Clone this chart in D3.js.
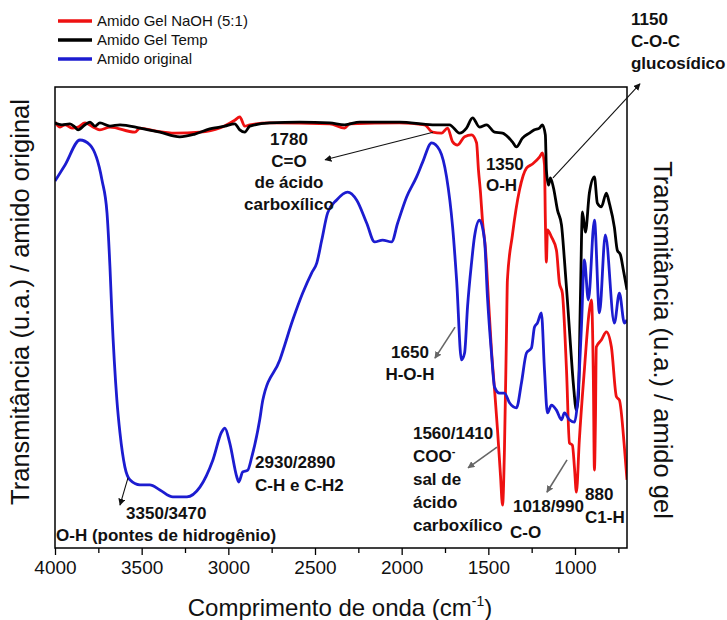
<!DOCTYPE html>
<meta charset="utf-8">
<style>
  body { margin: 0; background: #fff; }
  svg { font-family: "Liberation Sans", Arial, sans-serif; }
  .ann { font-weight: bold; font-size: 17px; fill: #111; }
</style>
<body>
<svg width="727" height="620"></svg>
<script src="https://cdn.jsdelivr.net/npm/d3@7"></script>
<script>

// wavenumber (cm-1), transmittance (u.a.)
var amidoOriginal = [
  [4000,79.6],[3942,83.1],[3856,88.5],[3798,87.4],[3729,79.8],[3700,72.7],[3683,61.0],[3672,51.0],
  [3643,32.1],[3625,24.9],[3597,17.6],[3568,14.8],[3510,13.7],[3453,13.7],[3395,12.6],[3320,11.1],
  [3239,11.1],[3164,13.2],[3089,19.1],[3038,25.2],[3020,26.0],[2992,22.8],[2951,15.4],[2940,14.3],
  [2917,16.5],[2888,16.9],[2865,19.7],[2819,27.8],[2801,32.1],[2703,40.8],[2628,49.5],[2571,55.3],
  [2519,59.7],[2490,61.8],[2461,66.8],[2427,72.7],[2375,75.5],[2312,77.2],[2260,75.5],[2202,70.5],
  [2156,66.4],[2110,66.8],[2058,66.4],[2023,70.5],[1972,76.1],[1914,80.5],[1879,83.7],[1827,87.9],
  [1781,86.3],[1741,80.5],[1706,69.6],[1683,58.1],[1655,40.8],[1637,42.3],[1620,52.3],[1597,61.8],
  [1580,67.5],[1551,71.1],[1522,66.8],[1505,54.4],[1482,42.3],[1464,34.9],[1436,33.6],[1407,33.6],
  [1378,31.5],[1338,30.4],[1309,35.8],[1280,42.3],[1251,43.4],[1234,47.9],[1217,48.8],[1194,51.0],
  [1176,38.6],[1159,29.3],[1136,31.0],[1107,29.9],[1078,27.8],[1061,29.3],[1032,27.8],[1003,27.3],
  [986,31.5],[963,47.9],[946,62.5],[923,53.8],[888,71.1],[859,51.0],[825,67.9],[773,48.8],
  [744,55.3],[715,48.8],[700,49.5]
];

var amidoGelTemp = [
  [4000,92.2],[3960,91.8],[3914,92.0],[3885,91.3],[3867,90.7],[3827,91.8],[3798,92.4],[3769,91.5],
  [3741,92.2],[3683,91.5],[3625,91.8],[3510,91.1],[3395,90.2],[3280,89.2],[3193,89.8],[3107,90.9],
  [3020,91.5],[2963,92.0],[2934,90.7],[2905,90.2],[2876,91.5],[2761,92.2],[2588,92.4],[2415,92.2],
  [2329,91.8],[2242,92.4],[2012,92.4],[1822,91.8],[1724,91.8],[1666,90.0],[1626,91.1],[1591,93.3],
  [1551,91.3],[1510,91.8],[1464,90.2],[1418,90.0],[1361,88.1],[1338,87.0],[1303,88.9],[1263,90.0],
  [1234,90.7],[1205,91.1],[1188,91.8],[1171,89.6],[1165,82.0],[1153,78.7],[1142,80.3],[1124,78.1],
  [1101,73.3],[1078,70.1],[1061,62.5],[1044,53.8],[1026,44.0],[1009,35.4],[992,29.9],[980,33.2],
  [969,53.8],[957,72.9],[940,68.5],[917,77.0],[888,80.5],[871,74.8],[848,74.0],[819,77.0],
  [802,74.8],[773,69.6],[756,64.6],[738,63.6],[721,60.3],[700,56.0]
];

var amidoGelNaOH = [
  [4000,92.4],[3971,91.3],[3942,91.8],[3902,91.1],[3867,91.3],[3827,92.2],[3769,91.1],[3741,90.7],
  [3683,91.3],[3539,90.2],[3510,91.1],[3424,90.5],[3308,90.0],[3164,90.2],[3049,91.1],[2963,92.8],
  [2934,93.5],[2905,91.5],[2876,91.8],[2761,92.2],[2415,92.0],[2329,91.1],[2300,92.0],[2012,92.2],
  [1868,91.8],[1822,90.2],[1770,90.0],[1735,91.1],[1706,88.1],[1678,87.4],[1637,89.2],[1597,89.6],
  [1568,87.9],[1557,82.0],[1545,77.0],[1534,71.1],[1516,64.6],[1499,53.8],[1482,43.0],[1464,34.3],
  [1447,25.6],[1430,15.8],[1418,9.3],[1407,21.3],[1395,47.3],[1390,58.1],[1361,67.9],[1320,77.7],
  [1280,82.4],[1245,83.3],[1205,84.8],[1188,85.7],[1176,83.1],[1171,71.1],[1165,62.0],[1159,69.0],
  [1136,67.5],[1107,64.6],[1090,57.5],[1073,55.3],[1049,38.6],[1032,22.8],[1015,22.3],[1003,17.4],
  [992,12.1],[975,23.4],[946,38.6],[917,51.6],[905,53.8],[894,36.4],[888,16.9],[882,27.8],
  [877,43.6],[848,45.1],[819,46.9],[790,43.6],[761,32.8],[744,32.1],[715,21.9],[700,14.8]
];

var seriesNames = ["Amido Gel NaOH (5:1)", "Amido Gel Temp", "Amido original"];
var seriesColors = ["#ee1111", "#000000", "#1c1cd0"];
var seriesData = [amidoGelNaOH, amidoGelTemp, amidoOriginal];

var xTicks = [4000, 3500, 3000, 2500, 2000, 1500, 1000];
var xMinorTicks = [3750, 3250, 2750, 2250, 1750, 1250, 750];

// band annotations: anchor (wavenumber, transmittance), text lines
var annotations = [
  {wn: 677, t: 113.4, anchor: "start", lh: 22, lines: ["1150", "C-O-C", "glucosídico"]},
  {wn: 2650, t: 87.4, anchor: "middle", lh: 21.5, lines: ["1780", "C=O", "de ácido", "carboxílico"]},
  {wn: 1514, t: 82.0, anchor: "start", lh: 21, lines: ["1350", "O-H"]},
  {wn: 1952, t: 41.2, anchor: "middle", lh: 22, lines: ["1650", "H-O-H"]},
  {wn: 1935, t: 23.6, anchor: "start", lh: 23, lines: ["1560/1410", "COO", "sal de", "ácido", "carboxílico"]},
  {wn: 1375, t: 2.2, anchor: "start", lh: 0, lines: ["C-O"]},
  {wn: 1358, t: 7.8, anchor: "start", lh: 0, lines: ["1018/990"]},
  {wn: 942, t: 10.4, anchor: "start", lh: 23, lines: ["880", "C1-H"]},
  {wn: 2846, t: 17.4, anchor: "start", lh: 23, lines: ["2930/2890", "C-H e C-H2"]},
  {wn: 3590, t: 6.3, anchor: "start", lh: 0, lines: ["3350/3470"]},
  {wn: 3994, t: 1.5, anchor: "start", lh: 0, lines: ["O-H (pontes de hidrogênio)"]}
];

// arrows: from (wn, t) to (wn, t)
var arrows = [
  {from: [1127, 80.3], to: [625, 100.7], color: "#111"},
  {from: [1819, 90.2], to: [2442, 84.2], color: "#111"},
  {from: [1692, 47.9], to: [1808, 41.2], color: "#666"},
  {from: [1450, 21.9], to: [1617, 17.4], color: "#666"},
  {from: [1046, 19.1], to: [1162, 12.1], color: "#666"},
  {from: [3579, 15.2], to: [3625, 9.3], color: "#111"}
];

var svg = d3.select("svg"),
    margin = {top: 87, right: 100, bottom: 72, left: 55},
    width = +svg.attr("width") - margin.left - margin.right,
    height = +svg.attr("height") - margin.top - margin.bottom;

var x = d3.scaleLinear().domain([4000, 700]).range([margin.left, margin.left + width]);
var y = d3.scaleLinear().domain([0, 100]).range([margin.top + height, margin.top]);

var defs = svg.append("defs");
["#111", "#666"].forEach(function(c, i) {
  defs.append("marker")
      .attr("id", "arr" + i)
      .attr("viewBox", "0 0 10 10")
      .attr("refX", 9).attr("refY", 5)
      .attr("markerWidth", 7).attr("markerHeight", 7)
      .attr("markerUnits", "userSpaceOnUse")
      .attr("orient", "auto")
    .append("path")
      .attr("d", "M0,0 L10,5 L0,10 z")
      .attr("fill", c);
});

defs.append("clipPath").attr("id", "plotclip")
  .append("rect")
    .attr("x", margin.left).attr("y", margin.top)
    .attr("width", width).attr("height", height);

// curves
var line = d3.line()
    .x(function(d) { return x(d[0]); })
    .y(function(d) { return y(d[1]); })
    .curve(d3.curveMonotoneX);

svg.append("g")
    .attr("clip-path", "url(#plotclip)")
  .selectAll("path")
    .data(seriesData)
  .enter().append("path")
    .attr("d", line)
    .attr("fill", "none")
    .attr("stroke", function(d, i) { return seriesColors[i]; })
    .attr("stroke-width", 2.8)
    .attr("stroke-linejoin", "round");

// frame
svg.append("rect")
    .attr("x", margin.left).attr("y", margin.top)
    .attr("width", width).attr("height", height)
    .attr("fill", "none")
    .attr("stroke", "#000")
    .attr("stroke-width", 1.5);

// x axis
var xAxis = svg.append("g")
    .attr("transform", "translate(0," + (margin.top + height) + ")")
    .call(d3.axisBottom(x).tickValues(xTicks).tickFormat(d3.format("d"))
      .tickSize(7).tickSizeOuter(0).tickPadding(6));
xAxis.select(".domain").remove();
xAxis.selectAll(".tick line").attr("stroke-width", 1.3);
xAxis.selectAll(".tick text")
    .style("font-size", "19px")
    .style("font-family", "'Liberation Sans', Arial, sans-serif")
    .attr("fill", "#111");

svg.append("g")
    .attr("transform", "translate(0," + (margin.top + height) + ")")
    .call(d3.axisBottom(x).tickValues(xMinorTicks).tickSize(5).tickFormat(""))
    .call(function(g) { g.select(".domain").remove(); })
    .selectAll(".tick line").attr("stroke-width", 1.3);

// axis titles
var xTitle = svg.append("text")
    .attr("x", 340).attr("y", 616)
    .attr("text-anchor", "middle")
    .style("font-size", "24px")
    .attr("fill", "#111");
xTitle.append("tspan").text("Comprimento de onda (cm");
xTitle.append("tspan").attr("dy", -10).style("font-size", "14px").text("-1");
xTitle.append("tspan").attr("dy", 10).text(")");

svg.append("text")
    .attr("transform", "translate(29,302) rotate(-90)")
    .attr("text-anchor", "middle")
    .style("font-size", "25.5px")
    .attr("fill", "#111")
    .text("Transmitância (u.a.) / amido original");

svg.append("text")
    .attr("transform", "translate(654,340) rotate(90)")
    .attr("text-anchor", "middle")
    .style("font-size", "25.5px")
    .attr("fill", "#111")
    .text("Transmitância (u.a.) / amido gel");

// legend
var legend = svg.append("g").selectAll("g")
    .data(seriesNames)
  .enter().append("g")
    .attr("transform", function(d, i) { return "translate(58," + (21 + i * 19) + ")"; });
legend.append("line")
    .attr("x1", 0).attr("x2", 34)
    .attr("stroke", function(d, i) { return seriesColors[i]; })
    .attr("stroke-width", 3.5);
legend.append("text")
    .attr("x", 39).attr("y", 5)
    .style("font-size", "15px")
    .attr("fill", "#111")
    .text(function(d) { return d; });

// arrows
svg.append("g").selectAll("line")
    .data(arrows)
  .enter().append("line")
    .attr("x1", function(d) { return x(d.from[0]); })
    .attr("y1", function(d) { return y(d.from[1]); })
    .attr("x2", function(d) { return x(d.to[0]); })
    .attr("y2", function(d) { return y(d.to[1]); })
    .attr("stroke", function(d) { return d.color; })
    .attr("stroke-width", function(d) { return d.color === "#666" ? 1.6 : 1.1; })
    .attr("marker-end", function(d) { return d.color === "#666" ? "url(#arr1)" : "url(#arr0)"; });

// annotation text
var ann = svg.append("g").selectAll("text")
    .data(annotations)
  .enter().append("text")
    .attr("class", "ann")
    .attr("text-anchor", function(d) { return d.anchor; });

ann.each(function(d) {
  var t = d3.select(this);
  d.lines.forEach(function(s, i) {
    var ts = t.append("tspan")
        .attr("x", x(d.wn))
        .attr("y", y(d.t) + i * d.lh);
    if (s === "COO") {
      ts.text("COO");
      t.append("tspan").attr("dy", -7).style("font-size", "11px").text("-");
    } else {
      ts.text(s);
    }
  });
});

</script>
</body>
